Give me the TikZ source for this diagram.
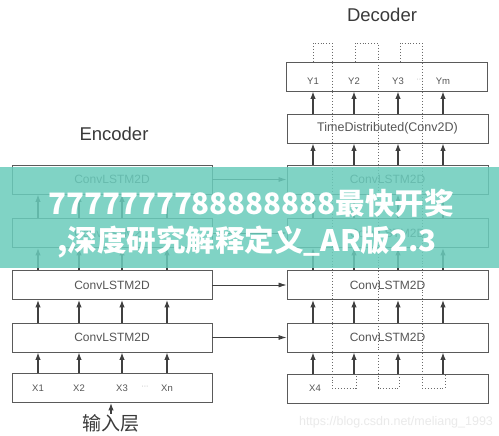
\documentclass[tikz,border=0pt]{standalone}
\usepackage{fontspec}
\setmainfont{Liberation Sans}
\newfontfamily\cjk{Noto Sans CJK SC}
\usetikzlibrary{arrows.meta}
\definecolor{boxline}{HTML}{5A5A5A}
\definecolor{labelgray}{HTML}{555555}
\definecolor{titlegray}{HTML}{3A3A3A}
\definecolor{arrowgray}{HTML}{404040}
\definecolor{dotgray}{HTML}{6A6A6A}
\definecolor{bannerteal}{RGB}{106,204,188}
\definecolor{wmgray}{HTML}{EAEAEA}
\tikzset{
  layerbox/.style={draw=boxline, line width=0.9pt, minimum width=200pt, minimum height=29pt,
    inner sep=0pt, text=labelgray, font=\fontsize{12}{14}\selectfont},
  smalllabel/.style={text=labelgray, font=\fontsize{9.5}{11}\selectfont, inner sep=0pt},
  dotslabel/.style={text=gray!70, font=\fontsize{7}{8}\selectfont, inner sep=0pt},
  titlelabel/.style={text=titlegray, font=\fontsize{18.5}{20}\selectfont, inner sep=0pt},
  uparrow/.style={draw=arrowgray, line width=1.2pt, -{Latex[length=7.5pt,width=5.5pt]}},
  sidearrow/.style={draw=arrowgray, line width=0.8pt, -{Latex[length=8pt,width=5pt]}},
  feedback/.style={draw=dotgray, line width=0.9pt, dotted},
  bannertext/.style={text=white, font=\cjk\bfseries\fontsize{29.5}{34}\selectfont, inner sep=0pt}
}
\begin{document}
\begin{tikzpicture}[x=1pt,y=-1pt]
\useasboundingbox (0,0) rectangle (499,436);
\fill[white] (0,0) rectangle (499,436);

% titles
\node[titlelabel] (enctitle) at (114,134) {Encoder};
\node[titlelabel] (dectitle) at (382,15) {Decoder};

% encoder boxes
\node[layerbox] (e1) at (112,179.5) {ConvLSTM2D};
\node[layerbox] (e2) at (112,233) {ConvLSTM2D};
\node[layerbox] (e3) at (112,285) {ConvLSTM2D};
\node[layerbox] (e4) at (112,337.5) {ConvLSTM2D};
\node[layerbox] (ex) at (112,388) {};

% decoder boxes
\node[layerbox, minimum width=201pt] (yb) at (386.5,76.5) {};
\node[layerbox, minimum width=201pt, font=\fontsize{12.5}{14}\selectfont] (td) at (387.5,128.5) {TimeDistributed(Conv2D)};
\node[layerbox, minimum width=201pt] (d1) at (387.5,179.5) {ConvLSTM2D};
\node[layerbox, minimum width=201pt] (d2) at (387.5,233) {ConvLSTM2D};
\node[layerbox, minimum width=201pt] (d3) at (387.5,285) {ConvLSTM2D};
\node[layerbox, minimum width=201pt] (d4) at (387.5,337.5) {ConvLSTM2D};
\node[layerbox, minimum width=201pt] (dx) at (387.5,388.5) {};

% column coordinates
\coordinate (ec1) at (38,0);
\coordinate (ec2) at (79,0);
\coordinate (ec3) at (122,0);
\coordinate (ec4) at (167,0);
\coordinate (dc1) at (313,0);
\coordinate (dc2) at (354,0);
\coordinate (dc3) at (398,0);
\coordinate (dc4) at (443,0);

% encoder input labels
\node[smalllabel] (x1) at (38,388) {X1};
\node[smalllabel] (x2) at (79,388) {X2};
\node[smalllabel] (x3) at (122,388) {X3};
\node[dotslabel] (xd) at (145,387) {···};
\node[smalllabel] (xn) at (167,388) {Xn};
\node[text=titlegray, font=\cjk\fontsize{19}{21}\selectfont, inner sep=0pt] (inlayer) at (111,423) {输入层};
\draw[uparrow] (inlayer.north) -- (ex.south -| inlayer.north);

% decoder input label and outputs
\node[smalllabel] (x4) at (315,388) {X4};
\node[smalllabel] (y1) at (313,81) {Y1};
\node[smalllabel] (y2) at (354,81) {Y2};
\node[smalllabel] (y3) at (398,81) {Y3};
\node[dotslabel] (yd) at (420,80) {···};
\node[smalllabel] (ym) at (443,81) {Ym};

% encoder vertical arrows
\foreach \c in {ec1,ec2,ec3,ec4}{
  \draw[uparrow] (ex.north -| \c) -- (e4.south -| \c);
  \draw[uparrow] (e4.north -| \c) -- (e3.south -| \c);
  \draw[uparrow] (e3.north -| \c) -- (e2.south -| \c);
  \draw[uparrow] (e2.north -| \c) -- (e1.south -| \c);
}
% decoder vertical arrows
\foreach \c in {dc1,dc2,dc3,dc4}{
  \draw[uparrow] (dx.north -| \c) -- (d4.south -| \c);
  \draw[uparrow] (d4.north -| \c) -- (d3.south -| \c);
  \draw[uparrow] (d3.north -| \c) -- (d2.south -| \c);
  \draw[uparrow] (d2.north -| \c) -- (d1.south -| \c);
  \draw[uparrow] (d1.north -| \c) -- (td.south -| \c);
  \draw[uparrow] (td.north -| \c) -- (yb.south -| \c);
}

% encoder to decoder arrows
\draw[sidearrow] (e1.east) -- (d1.west);
\draw[sidearrow] (e2.east) -- (d2.west);
\draw[sidearrow] (e3.east) -- (d3.west);
\draw[sidearrow] (e4.east) -- (d4.west);

% feedback dotted paths
\draw[feedback] (yb.north -| dc1) -- (313,43) -- (332,43) -- (332,388) -- (356,388) -- (dx.north -| 356,0);
\draw[feedback] (yb.north -| 355,0) -- (355,43) -- (378,43) -- (378,388) -- (399,388) -- (dx.north -| 399,0);
\draw[feedback] (yb.north -| 400,0) -- (400,43) -- (422,43) -- (422,388) -- (445,388) -- (dx.north -| 445,0);

% watermark
\node[text=wmgray, font=\fontsize{12.5}{14}\selectfont, inner sep=0pt] (wm) at (396,422) {https://blog.csdn.net/meliang\_1993};

% banner overlay
\fill[bannerteal, fill opacity=0.85] (0,167) rectangle (499,268);
\node[bannertext] (b1) at (251,203) {7777777788888888最快开奖};
\node[bannertext] (b2) at (247,242) {,深度研究解释定义\_AR版2.3};
\end{tikzpicture}
\end{document}
